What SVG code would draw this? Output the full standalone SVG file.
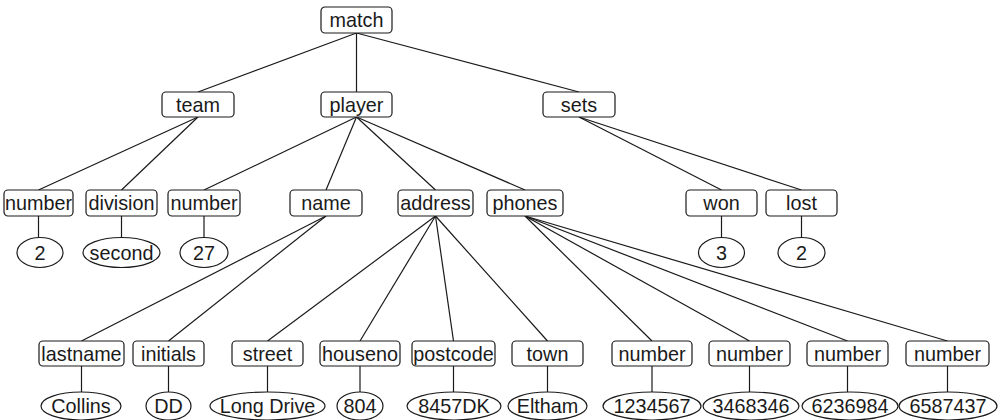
<svg xmlns="http://www.w3.org/2000/svg" width="1002" height="420" viewBox="0 0 1002 420">
<style>
.b{fill:#fff;stroke:#1a1a1a;stroke-width:1.2}
.e{fill:#fff;stroke:#1a1a1a;stroke-width:1.2}
.t{font-family:"Liberation Sans",Arial,sans-serif;font-size:19.8px;fill:#1a1a1a;text-anchor:middle}
#connectors line{stroke:#1a1a1a;stroke-width:1.2}
</style>
<rect width="1002" height="420" fill="#fff"/>
<g id="connectors">
<line x1="356.5" y1="33" x2="198" y2="92"/>
<line x1="356.5" y1="33" x2="356.5" y2="92"/>
<line x1="356.5" y1="33" x2="579" y2="92"/>
<line x1="198" y1="117" x2="38.5" y2="190"/>
<line x1="198" y1="117" x2="121.5" y2="190"/>
<line x1="356.5" y1="117" x2="204" y2="190"/>
<line x1="356.5" y1="117" x2="326" y2="190"/>
<line x1="356.5" y1="117" x2="435.5" y2="190"/>
<line x1="356.5" y1="117" x2="525" y2="190"/>
<line x1="579" y1="117" x2="721.5" y2="190"/>
<line x1="579" y1="117" x2="801.5" y2="190"/>
<line x1="38.5" y1="216" x2="38.5" y2="238"/>
<line x1="121.5" y1="216" x2="121.5" y2="238"/>
<line x1="204" y1="216" x2="204" y2="238"/>
<line x1="721.5" y1="216" x2="721.5" y2="238"/>
<line x1="801.5" y1="216" x2="801.5" y2="238"/>
<line x1="326" y1="216" x2="81.5" y2="341"/>
<line x1="326" y1="216" x2="168.5" y2="341"/>
<line x1="435.5" y1="216" x2="267.5" y2="341"/>
<line x1="435.5" y1="216" x2="360" y2="341"/>
<line x1="435.5" y1="216" x2="453.5" y2="341"/>
<line x1="435.5" y1="216" x2="547.5" y2="341"/>
<line x1="525" y1="216" x2="652" y2="341"/>
<line x1="525" y1="216" x2="749.5" y2="341"/>
<line x1="525" y1="216" x2="847.5" y2="341"/>
<line x1="525" y1="216" x2="947.5" y2="341"/>
<line x1="81.5" y1="366" x2="81.5" y2="392"/>
<line x1="168.5" y1="366" x2="168.5" y2="392"/>
<line x1="267.5" y1="366" x2="267.5" y2="392"/>
<line x1="360" y1="366" x2="360" y2="392"/>
<line x1="453.5" y1="366" x2="453.5" y2="392"/>
<line x1="547.5" y1="366" x2="547.5" y2="392"/>
<line x1="652" y1="366" x2="652" y2="392"/>
<line x1="749.5" y1="366" x2="749.5" y2="392"/>
<line x1="847.5" y1="366" x2="847.5" y2="392"/>
<line x1="947.5" y1="366" x2="947.5" y2="392"/>
</g>
<g id="match"><rect class="b" x="321" y="7" width="71" height="26" rx="4"/><text class="t" x="356.5" y="27">match</text></g>
<g id="team"><rect class="b" x="162" y="92" width="72" height="25" rx="4"/><text class="t" x="198" y="111.5">team</text></g>
<g id="player"><rect class="b" x="321" y="92" width="71" height="25" rx="4"/><text class="t" x="356.5" y="111.5">player</text></g>
<g id="sets"><rect class="b" x="543" y="92" width="72" height="25" rx="4"/><text class="t" x="579" y="111.5">sets</text></g>
<g id="team-number"><rect class="b" x="4" y="190" width="69" height="26" rx="4"/><text class="t" x="38.5" y="210">number</text></g>
<g id="division"><rect class="b" x="86" y="190" width="71" height="26" rx="4"/><text class="t" x="121.5" y="210">division</text></g>
<g id="player-number"><rect class="b" x="168" y="190" width="72" height="26" rx="4"/><text class="t" x="204" y="210">number</text></g>
<g id="name"><rect class="b" x="290" y="190" width="72" height="26" rx="4"/><text class="t" x="326" y="210">name</text></g>
<g id="address"><rect class="b" x="398" y="190" width="75" height="26" rx="4"/><text class="t" x="435.5" y="210">address</text></g>
<g id="phones"><rect class="b" x="487" y="190" width="76" height="26" rx="4"/><text class="t" x="525" y="210">phones</text></g>
<g id="won"><rect class="b" x="686" y="190" width="71" height="26" rx="4"/><text class="t" x="721.5" y="210">won</text></g>
<g id="lost"><rect class="b" x="766" y="190" width="71" height="26" rx="4"/><text class="t" x="801.5" y="210">lost</text></g>
<g id="v-2"><ellipse class="e" cx="40" cy="252.5" rx="23" ry="15"/><text class="t" x="40" y="259.5">2</text></g>
<g id="v-second"><ellipse class="e" cx="121.5" cy="252.5" rx="38.5" ry="15"/><text class="t" x="121.5" y="259.5">second</text></g>
<g id="v-27"><ellipse class="e" cx="204" cy="252.5" rx="24" ry="15"/><text class="t" x="204" y="259.5">27</text></g>
<g id="v-3"><ellipse class="e" cx="721.5" cy="252.5" rx="23" ry="15"/><text class="t" x="721.5" y="259.5">3</text></g>
<g id="v-lost2"><ellipse class="e" cx="801.5" cy="252.5" rx="23.5" ry="15"/><text class="t" x="801.5" y="259.5">2</text></g>
<g id="lastname"><rect class="b" x="39" y="341" width="85" height="25" rx="4"/><text class="t" x="81.5" y="360.5">lastname</text></g>
<g id="initials"><rect class="b" x="133" y="341" width="71" height="25" rx="4"/><text class="t" x="168.5" y="360.5">initials</text></g>
<g id="street"><rect class="b" x="232" y="341" width="71" height="25" rx="4"/><text class="t" x="267.5" y="360.5">street</text></g>
<g id="houseno"><rect class="b" x="320" y="341" width="80" height="25" rx="4"/><text class="t" x="360" y="360.5">houseno</text></g>
<g id="postcode"><rect class="b" x="412" y="341" width="83" height="25" rx="4"/><text class="t" x="453.5" y="360.5">postcode</text></g>
<g id="town"><rect class="b" x="512" y="341" width="71" height="25" rx="4"/><text class="t" x="547.5" y="360.5">town</text></g>
<g id="phone-number1"><rect class="b" x="612" y="341" width="80" height="25" rx="4"/><text class="t" x="652" y="360.5">number</text></g>
<g id="phone-number2"><rect class="b" x="709" y="341" width="81" height="25" rx="4"/><text class="t" x="749.5" y="360.5">number</text></g>
<g id="phone-number3"><rect class="b" x="807" y="341" width="81" height="25" rx="4"/><text class="t" x="847.5" y="360.5">number</text></g>
<g id="phone-number4"><rect class="b" x="906" y="341" width="83" height="25" rx="4"/><text class="t" x="947.5" y="360.5">number</text></g>
<g id="v-collins"><ellipse class="e" cx="81" cy="406" rx="40" ry="14"/><text class="t" x="81" y="413">Collins</text></g>
<g id="v-dd"><ellipse class="e" cx="168.5" cy="406" rx="22.5" ry="14"/><text class="t" x="168.5" y="413">DD</text></g>
<g id="v-longdrive"><ellipse class="e" cx="267.5" cy="406" rx="57.5" ry="14"/><text class="t" x="267.5" y="413">Long Drive</text></g>
<g id="v-804"><ellipse class="e" cx="360" cy="406" rx="23" ry="14"/><text class="t" x="360" y="413">804</text></g>
<g id="v-8457dk"><ellipse class="e" cx="454" cy="406" rx="47" ry="14"/><text class="t" x="454" y="413">8457DK</text></g>
<g id="v-eltham"><ellipse class="e" cx="547.5" cy="406" rx="39.5" ry="14"/><text class="t" x="547.5" y="413">Eltham</text></g>
<g id="v-1234567"><ellipse class="e" cx="652" cy="406" rx="49" ry="14"/><text class="t" x="652" y="413">1234567</text></g>
<g id="v-3468346"><ellipse class="e" cx="751" cy="406" rx="48" ry="14"/><text class="t" x="751" y="413">3468346</text></g>
<g id="v-6236984"><ellipse class="e" cx="850" cy="406" rx="48" ry="14"/><text class="t" x="850" y="413">6236984</text></g>
<g id="v-6587437"><ellipse class="e" cx="948" cy="406" rx="49" ry="14"/><text class="t" x="948" y="413">6587437</text></g>
</svg>
